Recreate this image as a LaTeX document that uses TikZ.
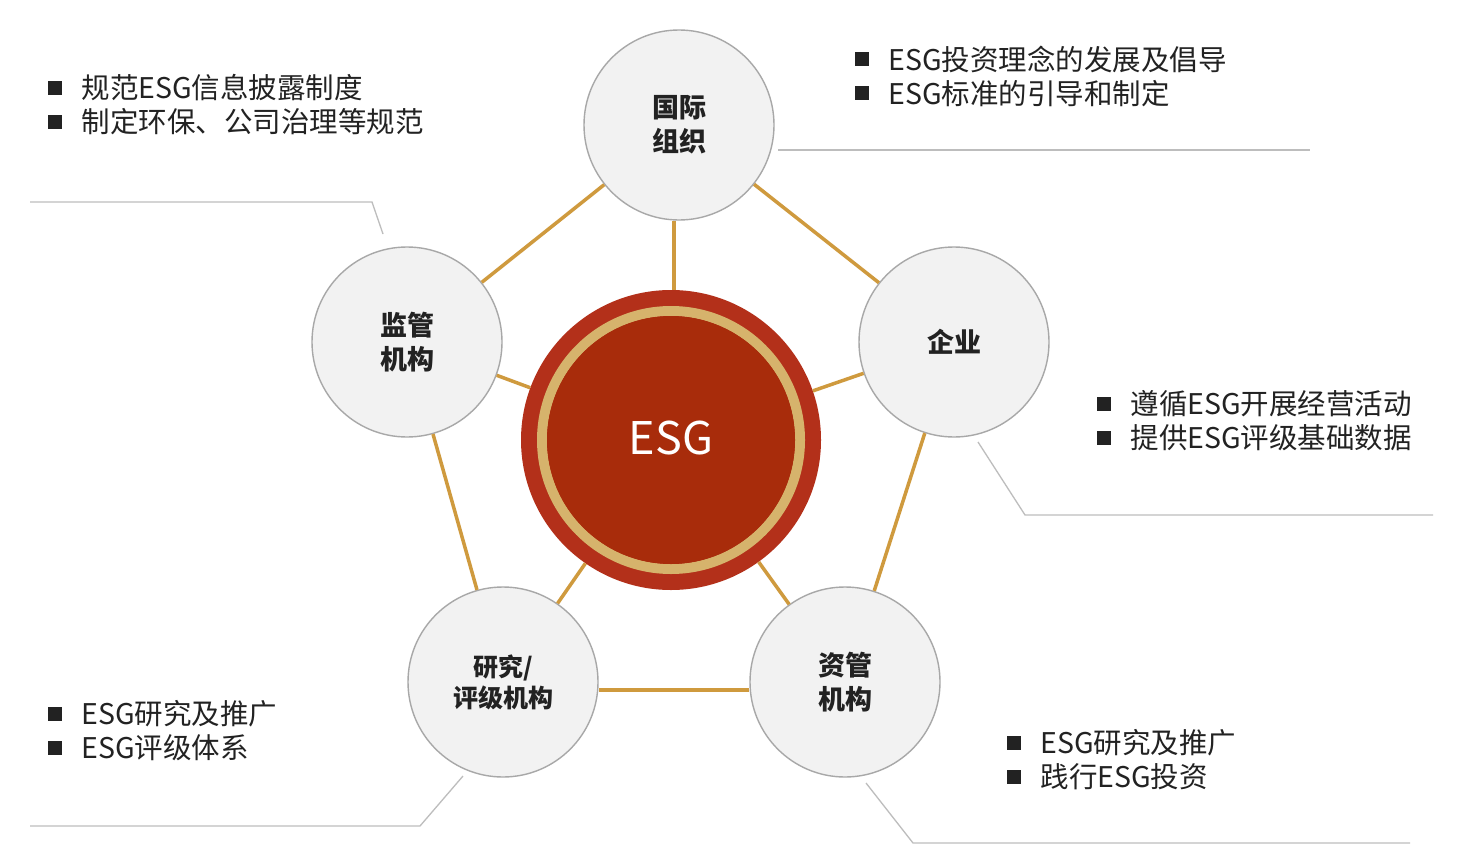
\documentclass[tikz,border=0pt]{standalone}
\usepackage{fontspec}
\setmainfont{Noto Sans CJK SC}
\definecolor{satfill}{HTML}{F2F2F2}
\definecolor{satborder}{HTML}{A8A8A8}
\definecolor{goldline}{HTML}{CF9A3E}
\definecolor{esgred}{HTML}{A82C0B}
\definecolor{esgring}{HTML}{B3301A}
\definecolor{esggold}{HTML}{D6B36C}
\definecolor{calloutgray}{HTML}{BDBDBD}
\definecolor{bodytext}{HTML}{222222}
\newcommand\bsq{\raisebox{0.13em}{\rule{0.5em}{0.5em}}\hspace{0.67em}}
\tikzset{
  sat/.style={circle, draw=satborder, line width=1.4pt, fill=satfill, minimum size=190pt, inner sep=0pt, font=\fontsize{27}{34}\selectfont\bfseries, text=bodytext, align=center},
  link/.style={draw=goldline, line width=3.5pt},
  callout/.style={draw=calloutgray, line width=1.3pt},
  blist/.style={anchor=west, inner sep=0pt, align=left, font=\fontsize{28.5}{34}\selectfont, text=bodytext}
}
\begin{document}
\begin{tikzpicture}[x=1pt,y=-1pt]
\useasboundingbox (0,0) rectangle (1458,859);
\fill[white] (0,0) rectangle (1458,859);

% central node
\node[circle, fill=esgring, minimum size=300pt, inner sep=0pt] (esg) at (671,440) {};
\draw[esggold, line width=10pt] (esg.center) circle (129pt);
\fill[esgred] (esg.center) circle (124pt);
\node[text=white, font=\fontsize{45}{50}\selectfont] (esglabel) at (671,438) {ESG};

% satellites
\node[sat] (gj) at (679,125) {国际\\组织};
\node[sat] (jg) at (407,342) {监管\\机构};
\node[sat] (qy) at (954,342) {企业};
\node[sat, font=\fontsize{25}{31}\selectfont\bfseries] (yj) at (503,682) {研究/\\评级机构};
\node[sat] (zg) at (845,682) {资管\\机构};

% pentagon links
\draw[link] (gj) -- (jg);
\draw[link] (gj) -- (qy);
\draw[link] (qy) -- (zg);
\draw[link] (zg.west |- 0,690) -- (yj.east |- 0,690);
\draw[link] (yj) -- (jg);
% spokes
\draw[link] (gj.south -| 674,0) -- (esg.north -| 674,0);
\draw[link] (jg) -- (esg);
\draw[link] (qy) -- (esg);
\draw[link] (yj) -- (esg);
\draw[link] (zg) -- (esg);

% callout lines
\coordinate (c1a) at (778,150); \coordinate (c1b) at (1310,150);
\draw[callout] (c1a) -- (c1b);
\coordinate (c2a) at (383,234); \coordinate (c2b) at (372,202); \coordinate (c2c) at (30,202);
\draw[callout] (c2a) -- (c2b) -- (c2c);
\coordinate (c3a) at (978,442); \coordinate (c3b) at (1025,515); \coordinate (c3c) at (1433,515);
\draw[callout] (c3a) -- (c3b) -- (c3c);
\coordinate (c4a) at (463,776); \coordinate (c4b) at (420,826); \coordinate (c4c) at (30,826);
\draw[callout] (c4a) -- (c4b) -- (c4c);
\coordinate (c5a) at (866,783); \coordinate (c5b) at (913,843); \coordinate (c5c) at (1410,843);
\draw[callout] (c5a) -- (c5b) -- (c5c);

% bullet lists
\node[blist] (t1) at (48,105) {\bsq 规范ESG信息披露制度\\\bsq 制定环保、公司治理等规范};
\node[blist] (t2) at (855,76) {\bsq ESG投资理念的发展及倡导\\\bsq ESG标准的引导和制定};
\node[blist] (t3) at (1097,421) {\bsq 遵循ESG开展经营活动\\\bsq 提供ESG评级基础数据};
\node[blist] (t4) at (48,731) {\bsq ESG研究及推广\\\bsq ESG评级体系};
\node[blist] (t5) at (1007,760) {\bsq ESG研究及推广\\\bsq 践行ESG投资};
\end{tikzpicture}
\end{document}
